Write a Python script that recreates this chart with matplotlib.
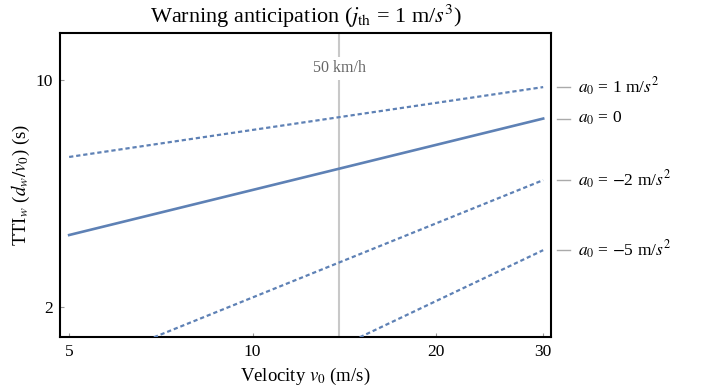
import numpy as np
import matplotlib
matplotlib.use("Agg")
import matplotlib.pyplot as plt

plt.rcParams['font.family'] = ['Liberation Serif', 'DejaVu Serif']
plt.rcParams['mathtext.fontset'] = 'stix'

# Data (log-log axes)
v_a1 = [5.0, 30.0]
tti_a1 = [5.80, 9.53]
v_a0 = [5.0, 30.0]
tti_a0 = [3.33, 7.62]
v_am2 = [6.89, 30.0]
tti_am2 = [1.61, 4.92]
v_am5 = [15.0, 30.0]
tti_am5 = [1.61, 2.99]

series_labels = [r"$a_0$ = 1 m/$s^2$", r"$a_0$ = 0",
                 r"$a_0$ = $-$2 m/$s^2$", r"$a_0$ = $-$5 m/$s^2$"]
v_50kmh = 50 / 3.6
x_ticks = [5, 10, 20, 30]
y_ticks = [2, 10]

blue = '#5E81B5'

fig = plt.figure(figsize=(7.01, 3.90), dpi=100)
ax = fig.add_axes([60/701, 1-337/390, 491/701, 304/390])
ax.set_xscale('log')
ax.set_yscale('log')
ax.set_xlim(4.83, 30.9)
ax.set_ylim(1.613, 14.0)

ax.axvline(v_50kmh, color='#c8c8c8', lw=1.5, zorder=1)
ax.text(v_50kmh, 10.9, '50 km/h', ha='center', va='center', fontsize=11.5,
        color='#666666', zorder=2,
        bbox=dict(facecolor='white', edgecolor='none', pad=2.5))

dash = (0, (1.9, 1.3))
lw_dash = 1.6
ax.plot(v_a1, tti_a1, color=blue, lw=lw_dash, ls=dash, zorder=3)
ax.plot(v_a0, tti_a0, color=blue, lw=1.9, ls='-', zorder=3)
ax.plot(v_am2, tti_am2, color=blue, lw=lw_dash, ls=dash, zorder=3)
ax.plot(v_am5, tti_am5, color=blue, lw=lw_dash, ls=dash, zorder=3)

ends = [tti_a1[-1], tti_a0[-1], tti_am2[-1], tti_am5[-1]]
trans = ax.get_yaxis_transform()
for yv, lab in zip(ends, series_labels):
    ax.plot([1.012, 1.039], [yv, yv], color='#aaaaaa', lw=1, transform=trans,
            clip_on=False)
    ax.text(1.055, yv, lab, transform=trans, ha='left', va='center',
            fontsize=12.5)

ax.set_xticks(x_ticks)
ax.set_xticklabels([str(t) for t in x_ticks])
ax.set_yticks(y_ticks)
ax.set_yticklabels([str(t) for t in y_ticks])
ax.xaxis.set_minor_locator(matplotlib.ticker.NullLocator())
ax.yaxis.set_minor_locator(matplotlib.ticker.NullLocator())
ax.tick_params(axis='both', which='major', direction='in', length=3,
               color='#999999', labelsize=12.5, pad=5)

for s in ax.spines.values():
    s.set_linewidth(1.5)
    s.set_color('black')

ax.set_xlabel(r"Velocity $v_0$ (m/s)", fontsize=13.5, labelpad=4)
ax.set_ylabel(r"TTI$_w$ ($d_w/v_0$) (s)", fontsize=13.5, labelpad=3)
ax.set_title(r"Warning anticipation ($j_{\rm th}$ = 1 m/$s^3$)", fontsize=16, pad=7)

fig.savefig('out.png', dpi=100)
